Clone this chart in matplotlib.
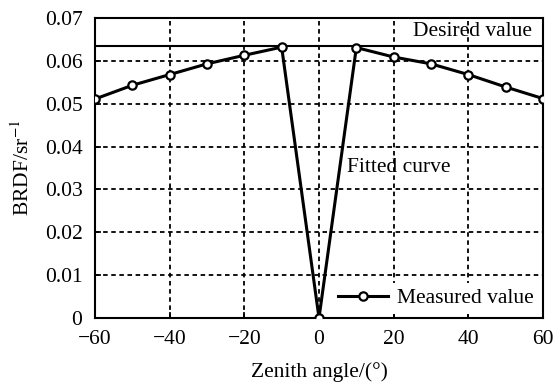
import numpy as np
import matplotlib.pyplot as plt

plt.rcParams['font.family'] = ['Liberation Serif', 'DejaVu Serif']
plt.rcParams['mathtext.fontset'] = 'stix'

# zenith angles and measured BRDF values
angles = [-60, -50, -40, -30, -20, -10, 0, 10, 20, 30, 40, 50, 60]
brdf = [0.0511, 0.0543, 0.0568, 0.0593, 0.0613, 0.0632, 0.0,
        0.0631, 0.0609, 0.0593, 0.0568, 0.0539, 0.0512]
desired = 0.0634

xticks = [-60, -40, -20, 0, 20, 40, 60]
yticks = [0, 0.01, 0.02, 0.03, 0.04, 0.05, 0.06, 0.07]

fs = 15.5

fig = plt.figure(figsize=(5.56, 3.82), dpi=100)
ax = fig.add_axes([95 / 556, 64 / 382, 448 / 556, 300 / 382])

ax.axhline(desired, color='black', lw=1.5, zorder=3)
ax.plot(angles, brdf, color='black', lw=2.2, marker='o', ms=6,
        mfc='white', mec='black', mew=1.6, zorder=4, label='Measured value')

ax.set_xlim(-60, 60)
ax.set_ylim(0, 0.07)
ax.set_xticks(xticks)
ax.set_xticklabels(['\u221260', '\u221240', '\u221220', '0', '20', '40', '60'])
ax.set_yticks(yticks)
ax.set_yticklabels(['0', '0.01', '0.02', '0.03', '0.04', '0.05', '0.06', '0.07'])
ax.tick_params(direction='in', length=4, width=1.2, labelsize=fs)
ax.tick_params(axis='x', pad=9)
ax.tick_params(axis='y', pad=9)
ax.grid(True, color='black', ls=(0, (2.5, 2)), lw=1.3)
for s in ax.spines.values():
    s.set_linewidth(1.5)

ax.set_xlabel('Zenith angle/(°)', fontsize=fs, labelpad=9)
ax.set_ylabel('BRDF/sr$^{-1}$', fontsize=fs, labelpad=8)

ax.text(25.2, 0.0668, 'Desired value', fontsize=fs, va='center', ha='left')
ax.text(7.5, 0.035, 'Fitted curve', fontsize=fs, va='center', ha='left')

leg = ax.legend(loc='lower right', fontsize=fs, frameon=True, fancybox=False,
                framealpha=1, edgecolor='white', handlelength=2.3,
                borderaxespad=0.2, borderpad=0.25, handletextpad=0.4)
leg.get_frame().set_linewidth(0)

fig.savefig('out.png', dpi=100)
